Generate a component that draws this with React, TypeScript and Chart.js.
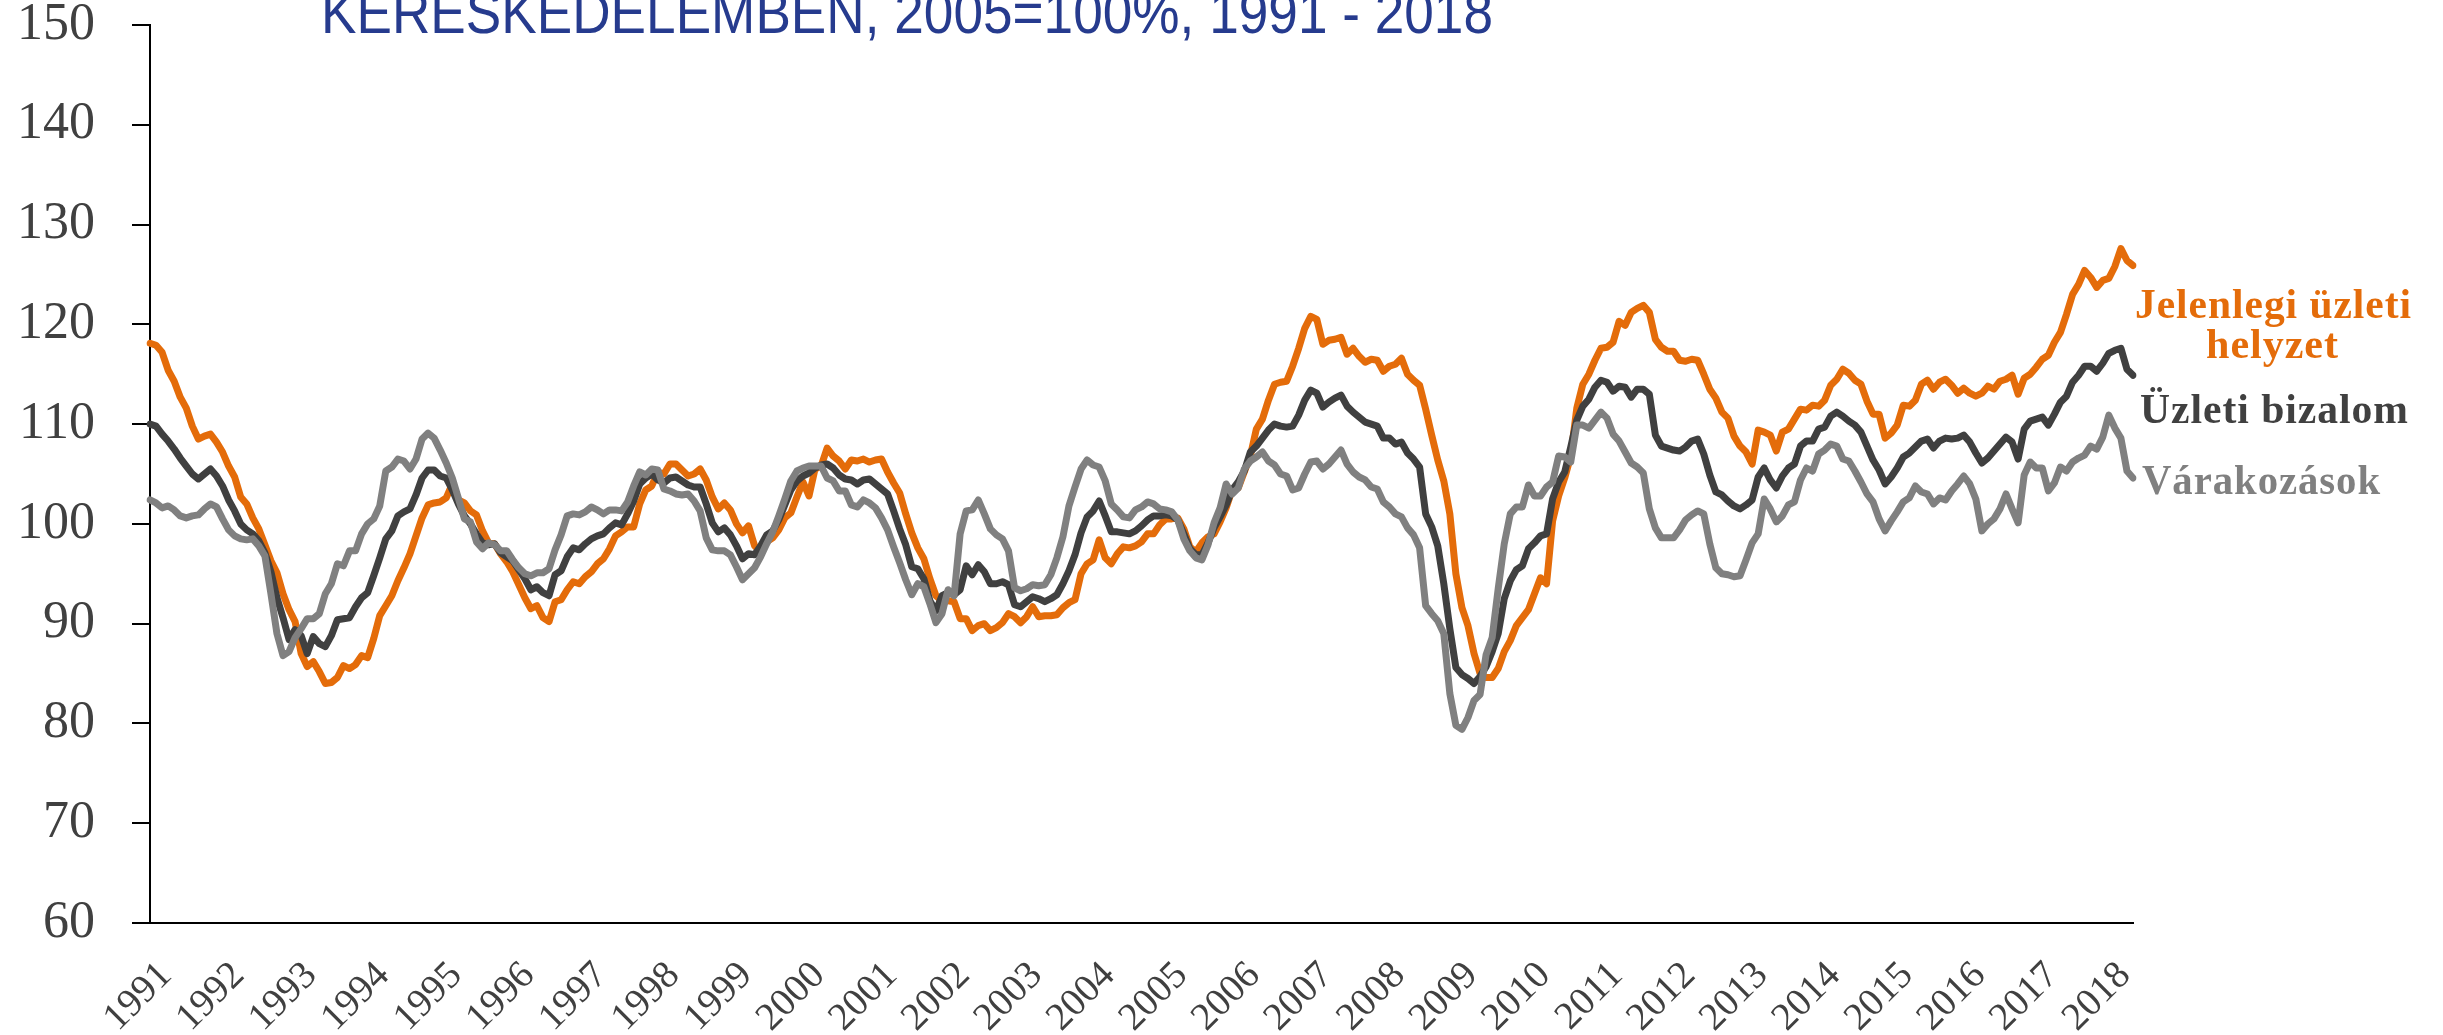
import React, { useEffect, useRef } from 'react';
import { Chart, registerables } from 'chart.js';

Chart.register(...registerables);

const TITLE = 'KERESKEDELEMBEN, 2005=100%, 1991 - 2018';

const yearLabels = [
  '1991', '1992', '1993', '1994', '1995', '1996', '1997', '1998', '1999', '2000',
  '2001', '2002', '2003', '2004', '2005', '2006', '2007', '2008', '2009', '2010',
  '2011', '2012', '2013', '2014', '2015', '2016', '2017', '2018',
];

const seriesNames = ['Jelenlegi üzleti helyzet', 'Üzleti bizalom', 'Várakozások'];

// Monthly values, Jan 1991 – May 2018 (one row per year)
const jelenlegi = [
  118.1, 117.9, 117.2, 115.4, 114.3, 112.7, 111.6, 109.8, 108.5, 108.8, 109.0, 108.2,
  107.2, 105.8, 104.7, 102.7, 102.0, 100.6, 99.5, 97.9, 96.3, 95.1, 93.0, 91.4,
  90.2, 87.0, 85.7, 86.2, 85.2, 84.0, 84.1, 84.6, 85.8, 85.5, 85.9, 86.8,
  86.6, 88.5, 90.8, 91.8, 92.8, 94.3, 95.6, 97.0, 98.8, 100.6, 101.9, 102.1,
  102.2, 102.6, 104.0, 102.4, 102.1, 101.3, 100.9, 99.3, 98.1, 98.0, 97.0, 96.2,
  95.2, 93.9, 92.6, 91.5, 91.8, 90.6, 90.2, 92.2, 92.4, 93.4, 94.2, 94.0,
  94.7, 95.2, 96.0, 96.5, 97.5, 98.8, 99.2, 99.7, 99.7, 102.0, 103.4, 103.8,
  105.2, 105.0, 106.0, 106.0, 105.4, 104.8, 105.0, 105.5, 104.4, 102.7, 101.5, 102.1,
  101.4, 100.0, 99.1, 99.8, 97.8, 97.2, 98.2, 98.6, 99.4, 100.6, 101.1, 102.7,
  104.2, 102.8, 105.5, 105.8, 107.6, 106.8, 106.3, 105.5, 106.4, 106.3, 106.5, 106.2,
  106.4, 106.5, 105.2, 104.1, 103.1, 101.0, 99.1, 97.6, 96.5, 94.5, 92.8, 92.3,
  92.3, 92.2, 90.5, 90.5, 89.3, 89.8, 90.0, 89.3, 89.6, 90.1, 91.0, 90.7,
  90.1, 90.7, 91.7, 90.7, 90.8, 90.8, 90.9, 91.6, 92.1, 92.4, 95.0, 96.0,
  96.4, 98.4, 96.6, 96.0, 97.0, 97.7, 97.6, 97.8, 98.2, 99.0, 99.0, 99.9,
  100.5, 100.5, 100.6, 99.5, 97.7, 97.2, 98.1, 98.7, 99.0, 100.2, 101.6, 103.4,
  103.6, 105.2, 106.8, 109.5, 110.5, 112.4, 114.0, 114.2, 114.3, 115.8, 117.6, 119.6,
  120.8, 120.5, 118.0, 118.4, 118.5, 118.7, 117.0, 117.6, 116.8, 116.2, 116.5, 116.4,
  115.3, 115.8, 116.0, 116.6, 115.0, 114.4, 113.9, 111.5, 108.9, 106.4, 104.3, 101.0,
  95.0, 91.6, 89.8, 87.0, 85.0, 84.6, 84.6, 85.5, 87.2, 88.3, 89.8, 90.6,
  91.4, 93.0, 94.6, 94.0, 100.3, 102.8, 104.6, 106.8, 111.6, 114.0, 115.0, 116.4,
  117.6, 117.7, 118.2, 120.3, 119.9, 121.2, 121.6, 121.9, 121.2, 118.5, 117.7, 117.3,
  117.3, 116.4, 116.3, 116.5, 116.4, 115.0, 113.5, 112.6, 111.2, 110.6, 108.8, 107.8,
  107.2, 106.0, 109.4, 109.2, 108.9, 107.3, 109.2, 109.5, 110.5, 111.5, 111.4, 111.9,
  111.8, 112.4, 113.9, 114.5, 115.5, 115.1, 114.4, 114.0, 112.3, 111.0, 111.0, 108.6,
  109.1, 109.9, 111.9, 111.8, 112.4, 114.0, 114.4, 113.5, 114.2, 114.5, 113.9, 113.1,
  113.6, 113.1, 112.8, 113.1, 113.8, 113.5, 114.3, 114.5, 114.9, 113.0, 114.6, 115.0,
  115.7, 116.5, 116.9, 118.2, 119.2, 121.0, 123.0, 124.0, 125.4, 124.7, 123.7, 124.4,
  124.6, 125.8, 127.6, 126.4, 125.9,
];

const bizalom = [
  110.0, 109.8, 109.0, 108.3, 107.5, 106.6, 105.8, 105.0, 104.5, 105.0, 105.5, 104.8,
  103.8, 102.4, 101.3, 100.0, 99.4, 99.0, 98.3, 97.1, 95.2, 92.6, 90.6, 88.4,
  89.4, 88.8, 87.0, 88.7, 88.0, 87.7, 88.8, 90.4, 90.5, 90.6, 91.7, 92.6,
  93.1, 94.8, 96.6, 98.5, 99.3, 100.8, 101.2, 101.5, 102.9, 104.6, 105.4, 105.4,
  104.8, 104.6, 103.4, 102.0, 100.8, 100.0, 99.0, 98.1, 97.9, 98.0, 97.1, 96.7,
  96.3, 95.4, 94.5, 93.4, 93.7, 93.1, 92.8, 94.9, 95.3, 96.7, 97.6, 97.4,
  98.0, 98.5, 98.8, 99.0, 99.6, 100.1, 99.9, 101.0, 102.3, 104.0, 104.6, 105.0,
  104.4, 104.1, 104.6, 104.7, 104.3, 103.9, 103.7, 103.7, 102.0, 100.1, 99.2, 99.6,
  98.9, 97.8, 96.5, 97.0, 96.9, 97.8, 98.9, 99.3, 100.4, 101.9, 103.4, 104.3,
  104.8, 105.1, 105.6, 105.9, 106.0, 105.6, 104.9, 104.5, 104.4, 104.0, 104.4, 104.5,
  104.0, 103.5, 103.0, 101.3, 99.5, 97.9, 95.7, 95.5, 94.5, 92.3, 91.3, 92.8,
  93.1, 92.9, 93.4, 95.8, 94.9, 95.9, 95.2, 94.0, 94.0, 94.2, 93.9, 91.9,
  91.7, 92.2, 92.7, 92.5, 92.2, 92.5, 92.9, 94.0, 95.3, 96.9, 99.1, 100.7,
  101.3, 102.3, 100.8, 99.2, 99.2, 99.1, 99.0, 99.3, 99.8, 100.4, 100.8, 100.8,
  100.9, 100.8, 100.4, 99.0, 97.5, 96.9, 96.9, 98.1, 99.6, 100.7, 101.9, 103.4,
  104.2, 105.3, 107.2, 107.8, 108.6, 109.4, 110.0, 109.8, 109.7, 109.8, 110.9, 112.4,
  113.4, 113.1, 111.7, 112.2, 112.6, 112.9, 111.8, 111.2, 110.7, 110.2, 110.0, 109.8,
  108.6, 108.6, 108.0, 108.2, 107.1, 106.5, 105.7, 101.0, 99.7, 97.8, 94.0, 89.5,
  85.6, 84.9, 84.5, 84.0, 84.7, 85.7, 87.2, 89.0, 92.5, 94.3, 95.4, 95.8,
  97.5, 98.1, 98.8, 99.0, 102.5, 104.2, 105.2, 107.7, 110.4, 111.8, 112.5, 113.7,
  114.4, 114.2, 113.3, 113.8, 113.7, 112.7, 113.5, 113.5, 113.0, 108.9, 107.8, 107.6,
  107.4, 107.3, 107.7, 108.3, 108.5, 107.0, 104.9, 103.2, 102.9, 102.3, 101.8, 101.5,
  101.9, 102.4, 104.7, 105.6, 104.4, 103.6, 104.8, 105.6, 106.0, 107.8, 108.3, 108.3,
  109.5, 109.7, 110.8, 111.2, 110.8, 110.3, 109.9, 109.2, 107.8, 106.4, 105.4, 104.0,
  104.7, 105.6, 106.7, 107.1, 107.7, 108.3, 108.5, 107.6, 108.3, 108.6, 108.5, 108.6,
  108.9, 108.2, 107.1, 106.1, 106.6, 107.3, 108.0, 108.7, 108.2, 106.5, 109.5, 110.3,
  110.5, 110.7, 109.9, 111.0, 112.2, 112.8, 114.2, 114.9, 115.8, 115.8, 115.3, 116.1,
  117.1, 117.4, 117.6, 115.5, 114.9,
];

const varakozasok = [
  102.4, 102.1, 101.6, 101.8, 101.4, 100.8, 100.6, 100.8, 100.9, 101.5, 102.0, 101.7,
  100.5, 99.4, 98.8, 98.5, 98.4, 98.5, 97.8, 96.8, 93.0, 89.0, 86.8, 87.2,
  88.6, 89.5, 90.5, 90.5, 91.0, 93.0, 94.0, 96.0, 95.8, 97.3, 97.3, 99.0,
  100.0, 100.5, 101.8, 105.3, 105.7, 106.5, 106.3, 105.5, 106.5, 108.5, 109.1, 108.6,
  107.4, 106.1, 104.6, 102.6, 100.5, 100.2, 98.2, 97.5, 98.1, 97.9, 97.3, 97.3,
  96.4, 95.6, 95.0, 94.8, 95.1, 95.1, 95.5, 97.4, 98.9, 100.8, 101.0, 100.9,
  101.2, 101.7, 101.4, 101.0, 101.4, 101.4, 101.3, 102.2, 103.8, 105.2, 104.9, 105.5,
  105.4, 103.5, 103.3, 103.0, 102.9, 103.0, 102.3, 101.3, 98.6, 97.4, 97.3, 97.3,
  96.9, 95.7, 94.4, 95.0, 95.6, 96.7, 98.0, 99.2, 100.8, 102.5, 104.3, 105.3,
  105.6, 105.8, 105.8, 105.8, 104.6, 104.3, 103.3, 103.3, 101.9, 101.7, 102.4, 102.1,
  101.6, 100.6, 99.4, 97.7, 96.1, 94.4, 92.9, 94.0, 93.7, 92.0, 90.1, 91.0,
  93.4, 92.8, 99.0, 101.3, 101.4, 102.4, 101.0, 99.5, 98.9, 98.5, 97.3, 93.6,
  93.3, 93.5, 93.9, 93.8, 93.9, 94.9, 96.6, 98.7, 101.8, 103.7, 105.5, 106.4,
  105.9, 105.7, 104.3, 102.0, 101.4, 100.7, 100.6, 101.4, 101.7, 102.2, 102.0, 101.5,
  101.4, 101.2, 100.4, 98.5, 97.3, 96.6, 96.4, 97.9, 100.1, 101.6, 104.0, 103.0,
  103.6, 105.5, 106.3, 106.7, 107.2, 106.3, 105.9, 105.0, 104.8, 103.4, 103.6, 105.0,
  106.2, 106.3, 105.5, 106.0, 106.7, 107.4, 106.0, 105.2, 104.7, 104.4, 103.7, 103.5,
  102.2, 101.7, 101.0, 100.7, 99.6, 98.9, 97.6, 91.8, 91.0, 90.3, 89.0, 83.0,
  79.8, 79.4, 80.6, 82.3, 82.9, 86.9, 88.6, 93.5, 98.0, 101.0, 101.7, 101.7,
  103.9, 102.8, 102.8, 103.7, 104.2, 106.8, 106.7, 106.2, 109.9, 109.9, 109.6, 110.4,
  111.2, 110.6, 109.0, 108.3, 107.2, 106.1, 105.7, 105.1, 101.5, 99.6, 98.6, 98.6,
  98.6, 99.4, 100.4, 100.9, 101.3, 101.0, 98.0, 95.6, 95.0, 94.9, 94.7, 94.8,
  96.4, 98.1, 99.0, 102.5, 101.5, 100.2, 100.8, 101.9, 102.2, 104.4, 105.6, 105.3,
  107.0, 107.4, 108.0, 107.8, 106.5, 106.3, 105.3, 104.2, 103.0, 102.2, 100.5, 99.3,
  100.3, 101.2, 102.2, 102.6, 103.8, 103.2, 103.0, 102.0, 102.6, 102.4, 103.3, 104.0,
  104.8, 104.0, 102.5, 99.3, 100.0, 100.5, 101.5, 103.0, 101.5, 100.1, 104.9, 106.2,
  105.6, 105.6, 103.3, 104.1, 105.7, 105.3, 106.2, 106.6, 106.9, 107.8, 107.5, 108.7,
  110.9, 109.6, 108.6, 105.3, 104.6,
];

const ORANGE = '#E46C0A';
const DARK = '#404040';
const GRAY = '#808080';
const TITLE_COLOR = '#263B8E';
const AXIS_TEXT = '#404040';

const monthLabels: string[] = [];
yearLabels.forEach((y) => {
  for (let m = 1; m <= 12; m++) monthLabels.push(`${y}-${String(m).padStart(2, '0')}`);
});
const categories = monthLabels.slice(0, jelenlegi.length);

function drawFitted(ctx: CanvasRenderingContext2D, text: string, x: number, y: number, width: number) {
  const w = ctx.measureText(text).width;
  ctx.save();
  ctx.translate(x, y);
  ctx.scale(width / w, 1);
  ctx.fillText(text, 0, 0);
  ctx.restore();
}

const textPlugin = {
  id: 'textPlugin',
  afterDraw(chart: any) {
    const ctx: CanvasRenderingContext2D = chart.ctx;
    ctx.save();
    ctx.textAlign = 'left';
    ctx.textBaseline = 'alphabetic';
    ctx.fillStyle = TITLE_COLOR;
    ctx.font = '60px "Liberation Sans Narrow", "Liberation Sans", Arial, sans-serif';
    drawFitted(ctx, TITLE, 321, 33, 1172);

    ctx.font = 'bold 43px "Liberation Serif", "DejaVu Serif", serif';
    (ctx as any).letterSpacing = '1px';
    ctx.fillStyle = ORANGE;
    drawFitted(ctx, 'Jelenlegi üzleti', 2135, 318, 277);
    drawFitted(ctx, 'helyzet', 2206, 358, 133);
    ctx.fillStyle = DARK;
    drawFitted(ctx, 'Üzleti bizalom', 2140, 423, 269);
    ctx.fillStyle = GRAY;
    drawFitted(ctx, 'Várakozások', 2142, 494, 239);
    ctx.restore();
  },
};

export default function App() {
  const canvasRef = useRef<HTMLCanvasElement | null>(null);

  useEffect(() => {
    document.body.style.margin = '0';
    const canvas = canvasRef.current;
    if (!canvas) return;
    const lineStyle = {
      borderWidth: 7,
      pointRadius: 0,
      tension: 0,
      borderJoinStyle: 'round' as const,
      borderCapStyle: 'round' as const,
    };
    const chart = new Chart(canvas, {
      type: 'line',
      data: {
        labels: categories,
        datasets: [
          { label: seriesNames[2], data: varakozasok, borderColor: GRAY, backgroundColor: GRAY, order: 1, ...lineStyle },
          { label: seriesNames[1], data: bizalom, borderColor: DARK, backgroundColor: DARK, order: 2, ...lineStyle },
          { label: seriesNames[0], data: jelenlegi, borderColor: ORANGE, backgroundColor: ORANGE, order: 3, ...lineStyle },
        ],
      },
      options: {
        animation: false,
        responsive: false,
        devicePixelRatio: 1,
        layout: { padding: { top: 25, right: 310, bottom: 0, left: 0 } },
        plugins: {
          legend: { display: false },
          tooltip: { enabled: false },
          title: { display: false },
        },
        scales: {
          x: {
            type: 'category',
            offset: false,
            grid: { display: false, drawTicks: false },
            border: { display: true, color: '#000000', width: 2 },
            ticks: {
              autoSkip: false,
              maxRotation: 45,
              minRotation: 45,
              padding: 30,
              labelOffset: 16,
              color: AXIS_TEXT,
              font: { family: '"Liberation Serif", "Times New Roman", serif', size: 39 },
              callback: (_v: any, idx: number) => (idx % 12 === 0 ? yearLabels[idx / 12] : ''),
            },
            afterFit: (scale: any) => {
              scale.height = 112;
              scale.paddingLeft = 0;
              scale.paddingRight = 0;
            },
          },
          y: {
            min: 60,
            max: 150,
            grid: {
              display: true,
              drawOnChartArea: false,
              drawTicks: true,
              tickLength: 18,
              color: '#000000',
              lineWidth: 2,
            },
            border: { display: true, color: '#000000', width: 2 },
            ticks: {
              stepSize: 10,
              padding: 37,
              color: AXIS_TEXT,
              font: { family: '"Liberation Serif", "Times New Roman", serif', size: 52 },
            },
            afterFit: (scale: any) => {
              scale.width = 150;
              scale.paddingTop = 0;
              scale.paddingBottom = 0;
            },
          },
        },
      },
      plugins: [textPlugin],
    });
    return () => chart.destroy();
  }, []);

  return (
    <div style={{ position: 'absolute', left: 0, top: 0, width: 2443, height: 1035 }}>
      <canvas ref={canvasRef} width={2443} height={1035} style={{ display: 'block' }} />
    </div>
  );
}
